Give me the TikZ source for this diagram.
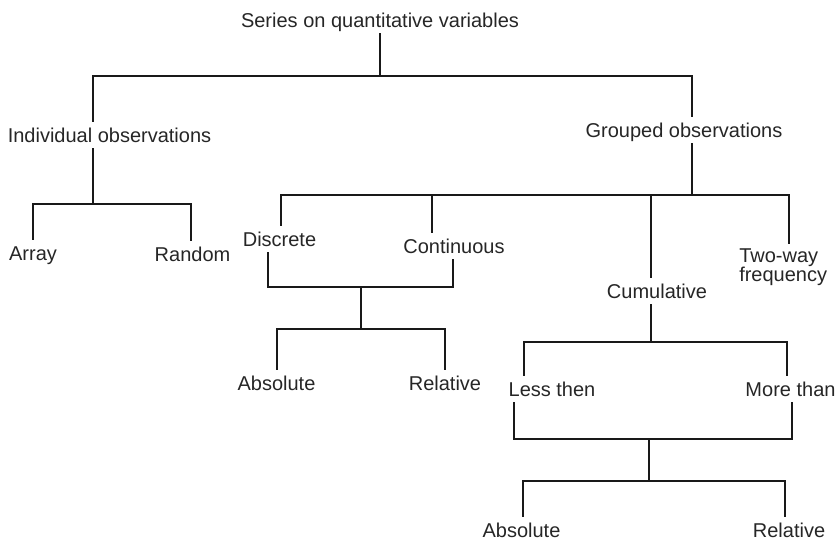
\documentclass[tikz,border=0pt]{standalone}
\usepackage{fontspec}
\setmainfont{Liberation Sans}
\begin{document}
\begin{tikzpicture}[x=0.75pt,y=-0.75pt,
    lbl/.style={font=\fontsize{15}{12.75}\selectfont, text=black!85, inner xsep=0pt, inner ysep=3.5pt,
        text height=11.5pt, text depth=1pt, anchor=base},
    branch/.style={line width=1.1pt, draw=black!90}]
    \useasboundingbox (0,0) rectangle (838,540);

    % labels
    \node[lbl] (root) at (380,27) {Series on quantitative variables};
    \node[lbl] (ind) at (109.5,142) {Individual observations};
    \node[lbl] (grp) at (684,137) {Grouped observations};

    \node[lbl] (array) at (33,260) {Array};
    \node[lbl] (random) at (192.5,261) {Random};

    \node[lbl] (disc) at (279.5,246) {Discrete};
    \node[lbl] (cont) at (454,253) {Continuous};
    \node[lbl] (cum) at (657,298) {Cumulative};
    \node[lbl, align=left, anchor=base west, text height={}, text depth={}] (twoway) at (739,281) {Two-way\\[-1pt]frequency};

    \node[lbl] (abs1) at (276.5,390) {Absolute};
    \node[lbl] (rel1) at (445,390) {Relative};

    \node[lbl] (less) at (552,396) {Less then};
    \node[lbl] (more) at (790.5,396) {More than};

    \node[lbl] (abs2) at (521.5,537) {Absolute};
    \node[lbl] (rel2) at (789,537) {Relative};

    % series
    \coordinate (r0) at (380,76);
    \coordinate (rl) at (93,76);
    \coordinate (rr) at (692,76);
    \draw[branch] (root.south -| r0) -- (r0);
    \draw[branch] (ind.north -| rl) -- (rl) -- (rr) -- (grp.north -| rr);

    % individual
    \coordinate (i0) at (93,204);
    \coordinate (il) at (33,204);
    \coordinate (ir) at (191,204);
    \draw[branch] (ind.south -| i0) -- (i0);
    \draw[branch] (array.north -| il) -- (il) -- (ir) -- (random.north -| ir);

    % grouped
    \coordinate (g0) at (692,195);
    \coordinate (gl) at (281,195);
    \coordinate (gc) at (432,195);
    \coordinate (gm) at (651,195);
    \coordinate (gr) at (789,195);
    \draw[branch] (grp.south -| g0) -- (g0);
    \draw[branch] (disc.north -| gl) -- (gl) -- (gr) -- (twoway.north -| gr);
    \draw[branch] (cont.north -| gc) -- (gc);
    \draw[branch] (cum.north -| gm) -- (gm);

    % discrete + continuous
    \coordinate (d0) at (361,287);
    \coordinate (dl) at (268,287);
    \coordinate (dr) at (453,287);
    \coordinate (a0) at (361,329);
    \coordinate (al) at (277,329);
    \coordinate (ar) at (445,329);
    \draw[branch] (disc.south -| dl) -- (dl) -- (dr) -- (cont.south -| dr);
    \draw[branch] (d0) -- (a0);
    \draw[branch] (abs1.north -| al) -- (al) -- (ar) -- (rel1.north -| ar);

    % cumulative
    \coordinate (c0) at (651,342);
    \coordinate (cl) at (524,342);
    \coordinate (cr) at (787,342);
    \draw[branch] (cum.south -| c0) -- (c0);
    \draw[branch] (less.north -| cl) -- (cl) -- (cr) -- (more.north -| cr);

    % less + more
    \coordinate (m0) at (649,439);
    \coordinate (ml) at (514,439);
    \coordinate (mr) at (792,439);
    \coordinate (b0) at (649,481);
    \coordinate (bl) at (523,481);
    \coordinate (br) at (785,481);
    \draw[branch] (less.south -| ml) -- (ml) -- (mr) -- (more.south -| mr);
    \draw[branch] (m0) -- (b0);
    \draw[branch] (abs2.north -| bl) -- (bl) -- (br) -- (rel2.north -| br);

\end{tikzpicture}
\end{document}
